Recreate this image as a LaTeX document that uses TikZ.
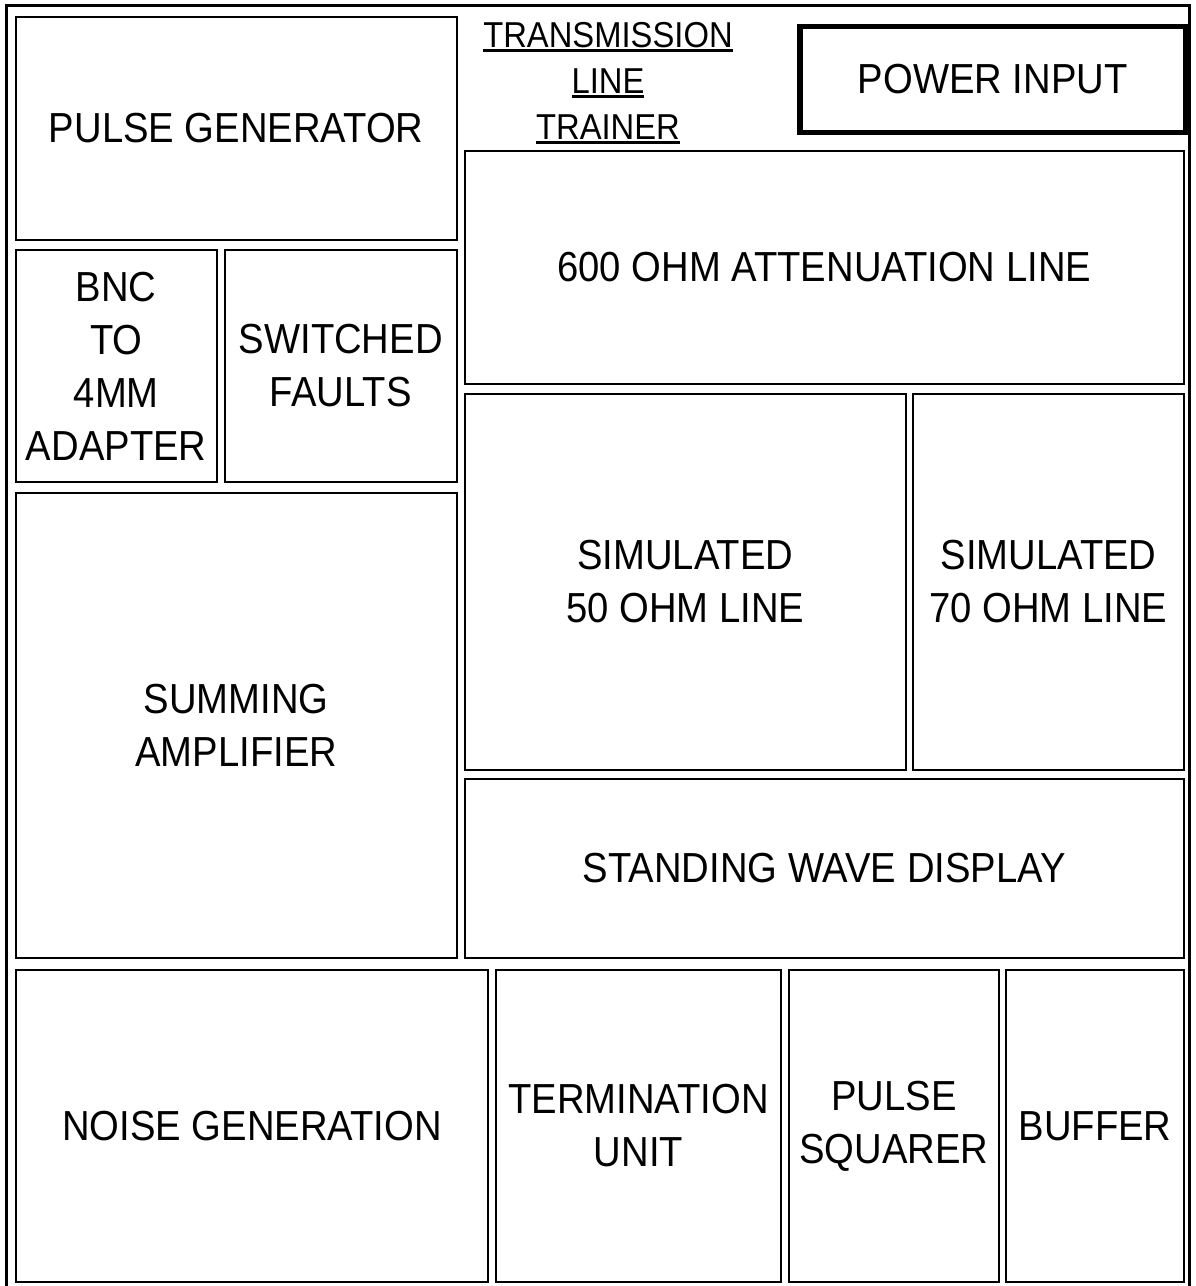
\documentclass[tikz,border=0pt]{standalone}
\usepackage{fontspec}
\setmainfont{Liberation Sans}[FakeStretch=0.91]
\usepackage{tikz}
\usetikzlibrary{positioning}
\newcommand\unitfont{\fontsize{42pt}{53pt}\selectfont}
\newcommand\headfont{\fontsize{36pt}{46pt}\selectfont}
\newcommand\headline[1]{\setbox0\hbox{#1}\rlap{\rule[-5pt]{\wd0}{3pt}}\box0}
\tikzset{
  unit/.style={draw=black,line width=2pt,inner sep=0pt,align=center,
    anchor=north west,font=\unitfont},
  mains/.style={unit,line width=5.5pt},
  panel/.style={line width=2.5pt},
  heading/.style={align=center,font=\headfont,inner sep=0pt},
}
\begin{document}
\begin{tikzpicture}[x=1pt,y=-1pt]
  \useasboundingbox (0,0) rectangle (1196,1286);
  % panel outline (bottom edge runs off the sheet)
  \coordinate (pbl) at (6.5,1286);
  \coordinate (pbr) at (1189.5,1286);
  \draw[panel] (pbl) |- (1189.5,5.5) -- (pbr);
  % left column
  \node[unit,minimum width=440.5,minimum height=223] (pulsegen) at (15,16)
    {PULSE GENERATOR};
  \node[unit,minimum width=200.5,minimum height=232] (bnc) at (15,249)
    {BNC\\TO\\4MM\\ADAPTER};
  \node[unit,minimum width=231.5,minimum height=232] (faults) at (224,249)
    {SWITCHED\\FAULTS};
  \node[unit,minimum width=440.5,minimum height=465] (summing) at (15,492)
    {SUMMING\\AMPLIFIER};
  % right column
  \node[heading] (title) at (608,83)
    {\headline{TRANSMISSION}\\\headline{LINE}\\\headline{TRAINER}};
  \node[mains,minimum width=386,minimum height=106] (power) at (797,23.5)
    {POWER INPUT};
  \node[unit,minimum width=719.5,minimum height=233] (atten) at (463.5,150)
    {600 OHM ATTENUATION LINE};
  \node[unit,minimum width=441.5,minimum height=376] (line50) at (463.5,393)
    {SIMULATED\\50 OHM LINE};
  \node[unit,minimum width=271,minimum height=376] (line70) at (912,393)
    {SIMULATED\\70 OHM LINE};
  \node[unit,minimum width=719.5,minimum height=179] (swd) at (463.5,778)
    {STANDING WAVE DISPLAY};
  % bottom row
  \node[unit,minimum width=472,minimum height=312] (noise) at (15,969)
    {NOISE GENERATION};
  \node[unit,minimum width=285,minimum height=312] (term) at (495,969)
    {TERMINATION\\UNIT};
  \node[unit,minimum width=210,minimum height=312] (squarer) at (788,969)
    {PULSE\\SQUARER};
  \node[unit,minimum width=178,minimum height=312] (buffer) at (1005,969)
    {BUFFER};
\end{tikzpicture}
\end{document}
